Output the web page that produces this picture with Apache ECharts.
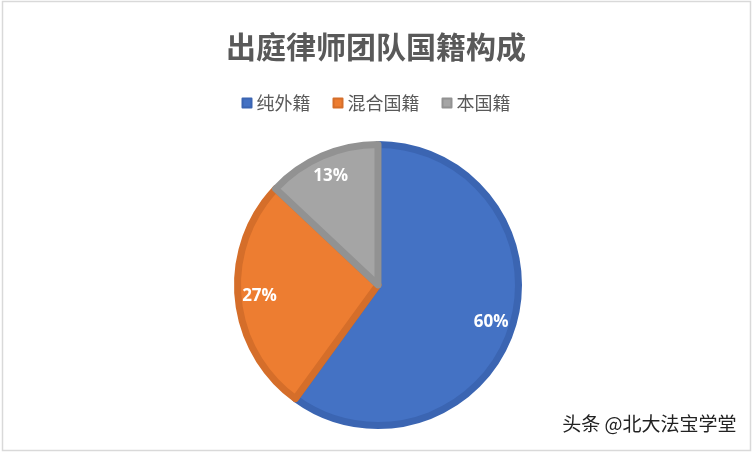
<!DOCTYPE html>
<html><head><meta charset="utf-8">
<script src="https://cdn.jsdelivr.net/npm/echarts@6/dist/echarts.min.js"></script>
<style>html,body{margin:0;padding:0;background:#fff}#c{width:752px;height:452px}</style>
</head><body><div id="c"></div>
<script>
const titleText = '出庭律师团队国籍构成';
const categories = ['纯外籍', '混合国籍', '本国籍'];
const values = [60, 27, 13];
const fillColors = ['#4472C4', '#ED7D31', '#A5A5A5'];
const borderColors = ['#3B65B2', '#D56E2A', '#929292'];
const watermark = '头条 @北大法宝学堂';

const data = categories.map((n, i) => ({
  name: n, value: values[i],
  itemStyle: { color: fillColors[i], borderColor: borderColors[i] }
}));
const chart = echarts.init(document.getElementById('c'));
chart.setOption({
  backgroundColor: '#fff',
  animation: false,
  title: {
    text: titleText, left: 'center', top: 27,
    textStyle: { fontSize: 30, fontWeight: 'bold', color: '#595959', fontFamily: 'Noto Sans CJK SC' }
  },
  legend: {
    data: categories, top: 89, left: 'center',
    itemWidth: 9, itemHeight: 9, itemGap: 22, icon: 'rect',
    textStyle: { fontSize: 18, color: '#595959', fontFamily: 'Noto Sans CJK SC' }
  },
  graphic: [
    { type: 'rect', shape: { x: 2.5, y: 1.5, width: 748, height: 449 }, style: { fill: 'none', stroke: '#d9d9d9', lineWidth: 1.5 }, z: 100 },
    { type: 'text', right: 15, top: 414, style: { text: watermark, font: '19px "Noto Sans CJK SC"', fill: '#222', stroke: '#fff', lineWidth: 1 }, z: 100 }
  ],
  series: [
    {
      type: 'pie', center: [378, 285], radius: [0, 140.5],
      startAngle: 90, clockwise: true,
      data: data,
      itemStyle: { borderWidth: 7 },
      label: { show: false }, labelLine: { show: false },
      emphasis: { disabled: true }
    },
    {
      type: 'pie', center: [378, 285], radius: [91, 141],
      startAngle: 90, clockwise: true, silent: true,
      data: categories.map((n, i) => ({ name: n, value: values[i] })),
      itemStyle: { color: 'rgba(0,0,0,0)', borderWidth: 0 },
      label: {
        show: true, position: 'inside', formatter: '{d}%',
        color: '#fff', fontSize: 17, fontWeight: 'bold', fontFamily: 'Open Sans'
      },
      labelLine: { show: false },
      emphasis: { disabled: true }
    }
  ]
});
</script></body></html>
